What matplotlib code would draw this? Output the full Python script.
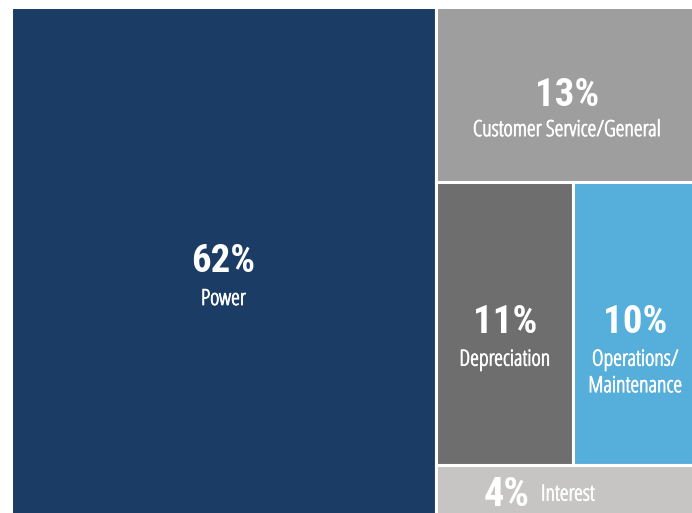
import matplotlib
matplotlib.use("Agg")
import matplotlib.pyplot as plt
from matplotlib.patches import Rectangle
import matplotlib.patheffects as pe

# ---- data ----
labels = ["Power", "Customer Service/General", "Depreciation", "Operations/\nMaintenance", "Interest"]
values = [62, 13, 11, 10, 4]
pct_text = ["62%", "13%", "11%", "10%", "4%"]
colors = ["#1a3c65", "#9e9e9e", "#6e6e6e", "#56aedb", "#c6c5c3"]

W, H = 692, 513
fig = plt.figure(figsize=(W / 100, H / 100), dpi=100)
fig.patch.set_facecolor("white")
left_px, right_px, top_px, bottom_px = 10.5, 697.5, 6.5, 518.5
ax = fig.add_axes([left_px / W, 1 - bottom_px / H,
                   (right_px - left_px) / W, (bottom_px - top_px) / H])
ax.set_xlim(0, 1)
ax.set_ylim(1, 0)
ax.axis("off")

total = sum(values)
rects = []
w0 = values[0] / total
rects.append((0, 0, w0, 1))
rest = total - values[0]
rw = 1 - w0
h1 = values[1] / rest
rects.append((w0, 0, rw, h1))
pair = values[2] + values[3]
h2 = pair / rest
w2 = rw * values[2] / pair
rects.append((w0, h1, w2, h2))
rects.append((w0 + w2, h1, rw - w2, h2))
rects.append((w0, h1 + h2, rw, 1 - h1 - h2))

for (x, y, w, h), c in zip(rects, colors):
    ax.add_patch(Rectangle((x, y), w, h, facecolor=c, edgecolor="white", linewidth=2.2))

PCT_FAM = ["Roboto Condensed", "DejaVu Sans"]
LAB_FAM = ["Open Sans", "DejaVu Sans"]
pct_size = 28
lab_size = 16
PX = 0.72  # points per pixel at 100 dpi
thick = [pe.withStroke(linewidth=0.6, foreground="white")]

pct_kw = dict(textcoords="offset points", color="white", fontsize=pct_size,
              fontweight="bold", family=PCT_FAM, va="baseline")
lab_kw = dict(textcoords="offset points", color="white", fontsize=lab_size,
              family=LAB_FAM, fontstretch="condensed", va="baseline", path_effects=thick)

for i, ((x, y, w, h), p, lab) in enumerate(zip(rects, pct_text, labels)):
    cx, cy = x + w / 2, y + h / 2
    if i == 4:
        ax.annotate(p, xy=(cx, cy), xytext=(-37 * PX, -14 * PX), ha="right",
                    **{**pct_kw, "fontsize": 29})
        ax.annotate(lab, xy=(cx, cy), xytext=(-26 * PX, -9 * PX), ha="left", **lab_kw)
        continue
    base = 12 if i == 1 else 9.5
    gap = 30 if i == 1 else 33
    ax.annotate(p, xy=(cx, cy), xytext=(0, -base * PX), ha="center", **pct_kw)
    for k, line in enumerate(lab.split("\n")):
        ax.annotate(line, xy=(cx, cy), xytext=(0, -(base + gap + 26.5 * k) * PX),
                    ha="center", **lab_kw)

fig.savefig("out.png", dpi=100, facecolor="white")
